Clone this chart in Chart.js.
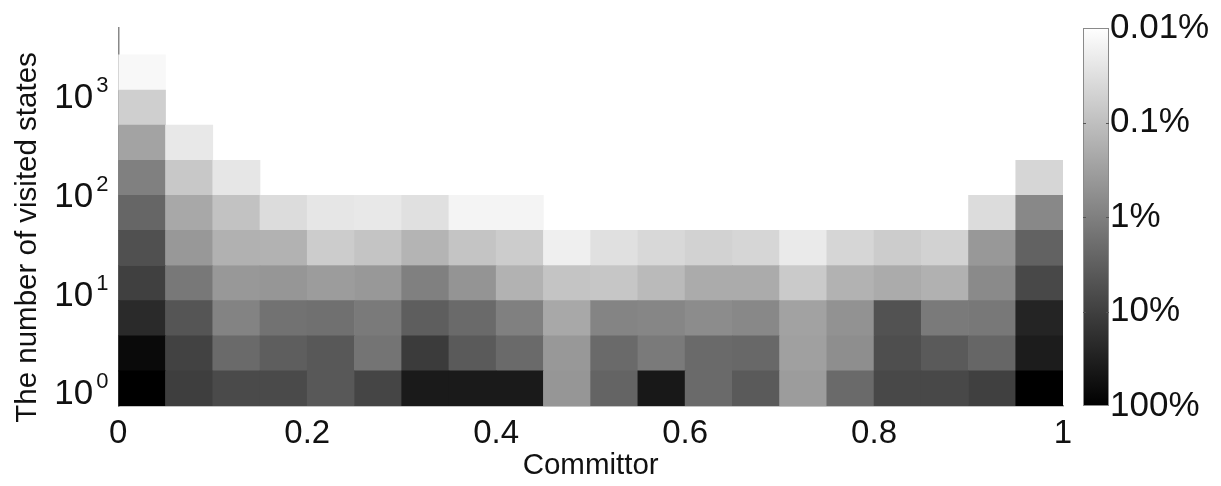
<!DOCTYPE html>
<html>
<head>
<meta charset="utf-8">
<script src="https://cdn.jsdelivr.net/npm/chart.js@4"></script>
<style>
  body { margin: 0; background: #fff; }
  #wrap { width: 1221px; height: 486px; position: relative; }
</style>
</head>
<body>
<div id="wrap"><canvas id="chart"></canvas></div>
<script>
// committor bins (centres) and bin edges of the count axis (log spaced)
const committorBins = [0.025, 0.075, 0.125, 0.175, 0.225, 0.275, 0.325, 0.375, 0.425, 0.475,
                       0.525, 0.575, 0.625, 0.675, 0.725, 0.775, 0.825, 0.875, 0.925, 0.975];
const countEdges = [0.664, 1.506, 3.415, 7.743, 17.56, 39.81, 90.28, 204.7, 464.2, 1052.5, 2387];
const xTicks = [0, 0.2, 0.4, 0.6, 0.8, 1];
const yTicks = [1, 10, 100, 1000];
const cbTicks = [0.01, 0.1, 1, 10, 100];

// percentage of states in each cell, one array per count bin (bottom to top)
const pctRow0 = [100, 10.6, 6.9, 6.9, 4.2, 8.3, 39, 39, 39, 0.44, 2.7, 42, 2.2, 3.9, 0.36, 2.2, 7.4, 7.4, 9.9, 100];
const pctRow1 = [70, 9.2, 2.2, 3.4, 4.2, 1.5, 12, 3.9, 2.2, 0.41, 2.2, 1.2, 2.2, 2.3, 0.31, 0.59, 6.0, 3.9, 2.5, 36];
const pctRow2 = [22, 4.6, 0.88, 1.6, 1.75, 1.2, 3.4, 2.2, 0.98, 0.23, 0.85, 0.79, 0.64, 0.74, 0.29, 0.51, 5.2, 1.2, 1.3, 27];
const pctRow3 = [9.9, 1.3, 0.41, 0.44, 0.36, 0.41, 0.98, 0.48, 0.16, 0.084, 0.078, 0.12, 0.21, 0.21, 0.068, 0.16, 0.21, 0.17, 0.68, 7.4];
const pctRow4 = [5.6, 0.41, 0.17, 0.16, 0.063, 0.084, 0.15, 0.084, 0.063, 0.018, 0.031, 0.041, 0.051, 0.044, 0.021, 0.044, 0.063, 0.051, 0.41, 2.9];
const pctRow5 = [2.5, 0.23, 0.091, 0.035, 0.025, 0.023, 0.031, 0.015, 0.015, null, null, null, null, null, null, null, null, null, 0.035, 0.74];
const pctRow6 = [0.98, 0.073, 0.025, null, null, null, null, null, null, null, null, null, null, null, null, null, null, null, null, 0.044];
const pctRow7 = [0.28, 0.023, null, null, null, null, null, null, null, null, null, null, null, null, null, null, null, null, null, null];
const pctRow8 = [0.057, null, null, null, null, null, null, null, null, null, null, null, null, null, null, null, null, null, null, null];
const pctRow9 = [0.013, null, null, null, null, null, null, null, null, null, null, null, null, null, null, null, null, null, null, null];

const pctRows = [pctRow0, pctRow1, pctRow2, pctRow3, pctRow4, pctRow5, pctRow6, pctRow7, pctRow8, pctRow9];

const FONT = '"Liberation Sans", Arial, Helvetica, sans-serif';
const TEXT = '#111';

// gray colormap: 100% -> black, 0.01% -> white (log)
function grayFor(p) {
    let t = (2 - Math.log10(p)) / 4;
    t = Math.min(1, Math.max(0, t));
    let g = Math.round(255 * t);
    return 'rgb(' + g + ',' + g + ',' + g + ')';
}

let datasets = pctRows.map(function (row, r) {
    let pts = [];
    row.forEach(function (p, i) {
        if (p === null) return;
        pts.push({ x: committorBins[i], y: [countEdges[r], countEdges[r + 1]], pct: p });
    });
    return {
        data: pts,
        backgroundColor: function (c) { return c.raw ? grayFor(c.raw.pct) : '#fff'; },
        borderWidth: 0,
        grouped: false,
        barPercentage: 1,
        categoryPercentage: 1
    };
});

// no extra room for overhanging tick labels, the layout is fixed
function noPad(s) {
    s.paddingTop = 0; s.paddingBottom = 0;
    s.paddingLeft = 0; s.paddingRight = 0;
}

// y tick labels with superscript exponents, plus the colour bar
const extras = {
    id: 'extras',
    afterDraw(chart) {
        const ctx = chart.ctx;
        const area = chart.chartArea;
        const y = chart.scales.y;
        const cb = chart.scales.cb;
        ctx.save();
        ctx.fillStyle = TEXT;
        yTicks.forEach(function (v) {
            let py = y.getPixelForValue(v);
            ctx.font = '35px ' + FONT;
            ctx.textAlign = 'right';
            ctx.textBaseline = 'alphabetic';
            ctx.fillText('10', area.left - 25, py + 16);
            ctx.font = '22px ' + FONT;
            ctx.textAlign = 'left';
            ctx.fillText(String(Math.round(Math.log10(v))), area.left - 22, py);
        });

        let x0 = area.right + 20, w = 26;
        let top = cb.getPixelForValue(0.01), bot = cb.getPixelForValue(100);
        let grad = ctx.createLinearGradient(0, top, 0, bot);
        grad.addColorStop(0, grayFor(0.01));
        grad.addColorStop(1, grayFor(100));
        ctx.fillStyle = grad;
        ctx.fillRect(x0, top, w, bot - top);
        ctx.strokeStyle = '#8a8a8a';
        ctx.lineWidth = 1;
        ctx.strokeRect(x0 + 0.5, top + 0.5, w - 1, bot - top - 1);
        ctx.strokeStyle = '#555';
        cbTicks.slice(1, -1).forEach(function (v) {
            let py = Math.round(cb.getPixelForValue(v)) + 0.5;
            ctx.beginPath();
            ctx.moveTo(x0, py); ctx.lineTo(x0 + 3, py);
            ctx.moveTo(x0 + w, py); ctx.lineTo(x0 + w - 3, py);
            ctx.stroke();
        });
        ctx.restore();
    }
};

Chart.defaults.font.family = FONT;
Chart.defaults.color = TEXT;

let heatChart = new Chart(document.getElementById('chart').getContext('2d'), {
    type: 'bar',
    data: { datasets: datasets },
    options: {
        responsive: true,
        maintainAspectRatio: false,
        animation: false,
        layout: { padding: { top: 28, left: 0, right: 0, bottom: 0 } },
        plugins: { legend: { display: false }, tooltip: { enabled: false } },
        scales: {
            x: {
                type: 'linear',
                min: 0,
                max: 1,
                offset: false,
                grid: { display: false, drawTicks: false },
                border: { display: true, color: '#888', width: 1.5 },
                afterBuildTicks: function (s) { s.ticks = xTicks.map(function (v) { return { value: v }; }); },
                ticks: {
                    padding: 8,
                    maxRotation: 0,
                    font: { size: 33 },
                    callback: function (v) { return String(v); }
                },
                title: {
                    display: true,
                    text: 'Committor',
                    font: { size: 29.5, lineHeight: 1.2 },
                    padding: { top: 0, bottom: 2 }
                },
                afterFit: function (s) { s.height = 80; noPad(s); }
            },
            y: {
                type: 'logarithmic',
                min: countEdges[0],
                max: 4467,
                grid: { display: false, drawTicks: false },
                border: { display: true, color: '#888', width: 1.5 },
                afterBuildTicks: function (s) { s.ticks = yTicks.map(function (v) { return { value: v }; }); },
                ticks: { display: false },
                title: {
                    display: true,
                    text: 'The number of visited states     ',
                    font: { size: 29.5, lineHeight: 1.2 },
                    padding: { top: 10, bottom: 0 }
                },
                afterFit: function (s) { s.width = 118.3; noPad(s); }
            },
            cb: {
                type: 'logarithmic',
                position: 'right',
                min: 0.01,
                max: 100,
                reverse: true,
                grid: { display: false, drawTicks: false },
                border: { display: false },
                afterBuildTicks: function (s) { s.ticks = cbTicks.map(function (v) { return { value: v }; }); },
                ticks: {
                    padding: 47,
                    font: { size: 35 },
                    callback: function (v) { return v + '%'; }
                },
                afterFit: function (s) { s.width = 158; noPad(s); }
            }
        }
    },
    plugins: [extras]
});
</script>
</body>
</html>
